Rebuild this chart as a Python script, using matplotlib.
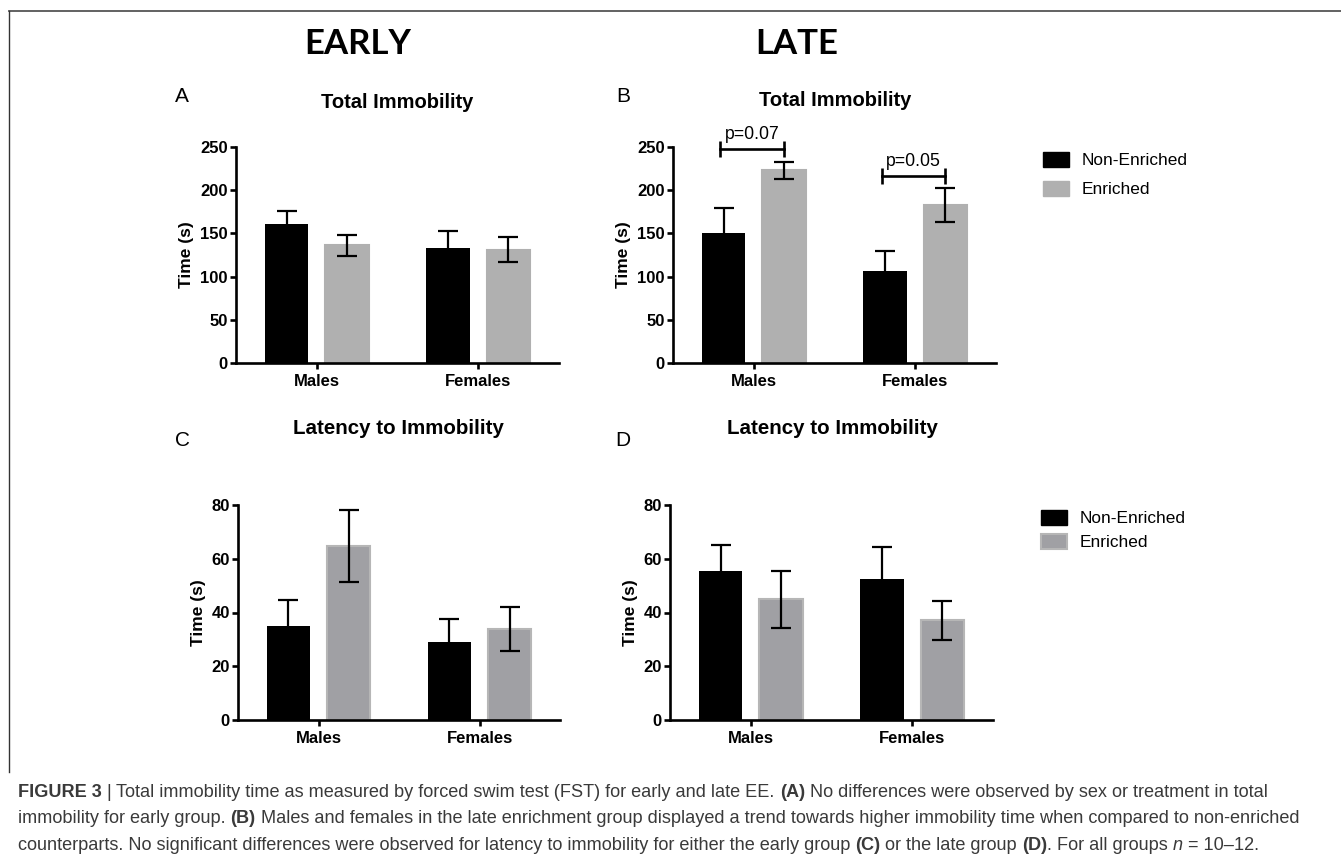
import matplotlib
matplotlib.use("Agg")
import matplotlib.pyplot as plt
from matplotlib.patches import Patch
from matplotlib.lines import Line2D
import numpy as np

W, H = 1341, 868

# data
groups = ["Males", "Females"]
labels = ["Non-Enriched", "Enriched"]

early_total_ne = [161, 133]
early_total_ne_err = [15, 20]
early_total_e = [136, 131]
early_total_e_err = [12, 14.5]

late_total_ne = [151, 106]
late_total_ne_err = [28, 24]
late_total_e = [223, 183]
late_total_e_err = [9.5, 19.5]

early_lat_ne = [35, 29]
early_lat_ne_err = [9.7, 8.4]
early_lat_e = [64.8, 34]
early_lat_e_err = [13.5, 8.2]

late_lat_ne = [55.6, 52.6]
late_lat_ne_err = [9.7, 11.6]
late_lat_e = [44.9, 37.1]
late_lat_e_err = [10.6, 7.2]

pvals = ["p=0.07", "p=0.05"]
bracket_y = [248, 217]

BLACK = "#000000"
GRAY_TOP = "#b0b0b0"
GRAY_BOT = "#a0a0a4"
GRAY_BOT_EDGE = "#b6b6b6"

plt.rcParams["font.family"] = ["Liberation Sans", "DejaVu Sans"]

fig = plt.figure(figsize=(W / 100, H / 100), dpi=100)


def px_axes(left, right, top, bottom):
    return fig.add_axes([left / W, 1 - bottom / H, (right - left) / W, (bottom - top) / H])


bw = 0.269
off = 0.187


def panel(ax, ne, ne_err, e, e_err, ymax, step, gray, gray_edge):
    x = np.arange(len(groups))
    ax.bar(x - off, ne, bw, color=BLACK, zorder=2)
    ax.bar(x + off, e, bw, color=gray, edgecolor=gray_edge, linewidth=1.5, zorder=2)
    ax.errorbar(x - off, ne, yerr=ne_err, fmt="none", ecolor="black", elinewidth=1.6,
                capsize=7.5, capthick=1.6, zorder=3)
    ax.errorbar(x + off, e, yerr=e_err, fmt="none", ecolor="black", elinewidth=1.6,
                capsize=7.5, capthick=1.6, zorder=3)
    ax.set_xlim(-0.5, 1.5)
    ax.set_ylim(0, ymax)
    ax.set_yticks(np.arange(0, ymax + 1, step))
    ax.set_xticks(x)
    ax.set_xticklabels(groups, fontweight="bold", fontsize=12)
    for t in ax.get_yticklabels():
        t.set_fontweight("bold")
        t.set_fontsize(12)
    ax.spines["top"].set_visible(False)
    ax.spines["right"].set_visible(False)
    for s in ["left", "bottom"]:
        ax.spines[s].set_linewidth(1.9)
    ax.tick_params(width=1.9, length=4.5, pad=1.5)
    ax.tick_params(axis="x", pad=3.5)
    ax.set_ylabel("Time (s)", fontweight="bold", fontsize=12.5, labelpad=4)
    ax.patch.set_alpha(0)


axA = px_axes(236, 559, 147, 363)
panel(axA, early_total_ne, early_total_ne_err, early_total_e, early_total_e_err,
      250, 50, GRAY_TOP, GRAY_TOP)
axB = px_axes(673, 996, 147, 363)
panel(axB, late_total_ne, late_total_ne_err, late_total_e, late_total_e_err,
      250, 50, GRAY_TOP, GRAY_TOP)
axC = px_axes(238, 560, 505, 720)
panel(axC, early_lat_ne, early_lat_ne_err, early_lat_e, early_lat_e_err,
      80, 20, GRAY_BOT, GRAY_BOT_EDGE)
axD = px_axes(670, 993, 505, 720)
panel(axD, late_lat_ne, late_lat_ne_err, late_lat_e, late_lat_e_err,
      80, 20, GRAY_BOT, GRAY_BOT_EDGE)

# significance brackets on B
for i, (p, yb) in enumerate(zip(pvals, bracket_y)):
    x1, x2 = i - off - 0.02, i + off
    axB.plot([x1, x2], [yb, yb], color="black", lw=1.9, marker="|", markersize=12,
             markeredgewidth=1.9, clip_on=False, zorder=4)
    axB.annotate(p, ((x1 + x2) / 2, yb), xytext=(0, 4), textcoords="offset points",
                 ha="center", va="bottom", fontsize=12.7, annotation_clip=False)

# panel titles, letters
fig.text(397 / W, 1 - 102 / H, "Total Immobility", ha="center", va="center", fontweight="bold", fontsize=14.5)
fig.text(835 / W, 1 - 101 / H, "Total Immobility", ha="center", va="center", fontweight="bold", fontsize=14.5)
fig.text(398 / W, 1 - 428 / H, "Latency to Immobility", ha="center", va="center", fontweight="bold", fontsize=14.8)
fig.text(832 / W, 1 - 428 / H, "Latency to Immobility", ha="center", va="center", fontweight="bold", fontsize=14.8)
for letter, lx, ly in [("A", 182, 97), ("B", 623, 96), ("C", 182, 440), ("D", 623, 440)]:
    fig.text(lx / W, 1 - ly / H, letter, ha="center", va="center", fontsize=15)

fig.text(358 / W, 1 - 44 / H, "EARLY", ha="center", va="center", fontweight="bold",
         fontsize=25, family=["Lato", "DejaVu Sans"])
fig.text(797 / W, 1 - 44 / H, "LATE", ha="center", va="center", fontweight="bold",
         fontsize=25, family=["Lato", "DejaVu Sans"])

# legends
h_top = [Patch(facecolor=BLACK, edgecolor=BLACK), Patch(facecolor=GRAY_TOP, edgecolor=GRAY_TOP)]
fig.legend(h_top, labels, loc="upper left", bbox_to_anchor=(1043 / W, 1 - 152 / H),
           frameon=False, borderpad=0, borderaxespad=0, fontsize=12.4, handlelength=1.5,
           handleheight=0.93, handletextpad=0.75, labelspacing=0.74)
h_bot = [Patch(facecolor=BLACK, edgecolor=BLACK),
         Patch(facecolor=GRAY_BOT, edgecolor=GRAY_BOT_EDGE, linewidth=1.5)]
fig.legend(h_bot, labels, loc="upper left", bbox_to_anchor=(1041 / W, 1 - 510 / H),
           frameon=False, borderpad=0, borderaxespad=0, fontsize=12.4, handlelength=1.5,
           handleheight=0.93, handletextpad=0.75, labelspacing=0.45)

# frame lines (top and left)
fig.add_artist(Line2D([9 / W, 1], [1 - 11 / H, 1 - 11 / H], color="#555555", lw=1.3))
fig.add_artist(Line2D([9 / W, 9 / W], [1 - 11 / H, 1 - 772 / H], color="#333333", lw=1.0))

# caption, built from bold / regular / italic pieces
cap_lines = [
    [("FIGURE 3", "bold", "normal"), (" | ", "normal", "normal"),
     ("Total immobility time as measured by forced swim test (FST) for early and late EE. ", "normal", "normal"),
     ("(A)", "bold", "normal"),
     (" No differences were observed by sex or treatment in total", "normal", "normal")],
    [("immobility for early group. ", "normal", "normal"), ("(B)", "bold", "normal"),
     (" Males and females in the late enrichment group displayed a trend towards higher immobility time when compared to non-enriched",
      "normal", "normal")],
    [("counterparts. No significant differences were observed for latency to immobility for either the early group ", "normal", "normal"),
     ("(C)", "bold", "normal"), (" or the late group ", "normal", "normal"), ("(D)", "bold", "normal"),
     (". For all groups ", "normal", "normal"), ("n", "normal", "italic"), (" = 10\u201312.", "normal", "normal")],
]
cap_y = [797, 823, 850]
cap_fs = 13.1
fig.canvas.draw()
renderer = fig.canvas.get_renderer()
for segs, yy in zip(cap_lines, cap_y):
    xx = 18
    for s, wt, st in segs:
        t = fig.text(xx / W, 1 - yy / H, s, ha="left", va="baseline", fontsize=cap_fs,
                     fontweight=wt, fontstyle=st, color="#3a3a3a")
        bb = t.get_window_extent(renderer)
        xx += bb.width

fig.savefig("out.png", dpi=100)
